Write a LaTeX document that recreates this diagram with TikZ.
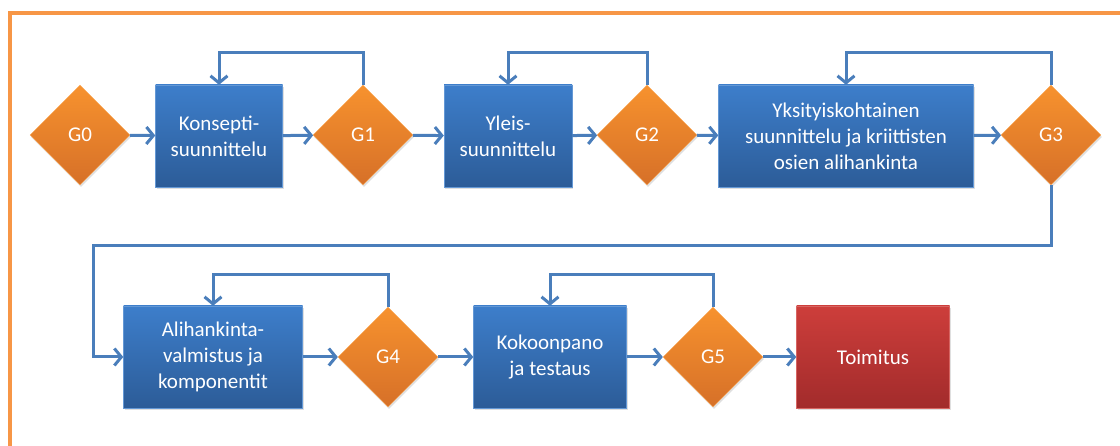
\documentclass[tikz,border=0pt]{standalone}
\usepackage{fontspec}
\setmainfont{Carlito}
\usetikzlibrary{arrows.meta,shapes.geometric,shadows}
\definecolor{gateorange}{RGB}{247,146,46}
\definecolor{gatedark}{RGB}{214,112,40}
\definecolor{taskblue}{RGB}{61,126,203}
\definecolor{taskdark}{RGB}{44,92,152}
\definecolor{donered}{RGB}{205,62,59}
\definecolor{donedark}{RGB}{162,43,43}
\definecolor{flowblue}{RGB}{74,126,187}
\definecolor{frameorange}{RGB}{247,150,70}

\begin{document}
\begin{tikzpicture}[x=1pt,y=-1pt,
    font=\fontsize{21}{26}\selectfont,
    gate/.style={diamond,aspect=1,inner sep=0pt,minimum width=100pt,minimum height=100pt,
      top color=gateorange,bottom color=gatedark,draw=gateorange!80!white,text=white,
      drop shadow={opacity=0.25,shadow xshift=1pt,shadow yshift=-2pt}},
    task/.style={rectangle,minimum height=102pt,align=center,inner sep=2pt,
      top color=taskblue,bottom color=taskdark,draw=taskblue!80!white,text=white,
      drop shadow={opacity=0.25,shadow xshift=1pt,shadow yshift=-2pt}},
    done/.style={task,top color=donered,bottom color=donedark,draw=donered!80!white},
    flow/.style={draw=flowblue,line width=3pt,
      -{Straight Barb[length=7pt,width=17pt,line width=3pt]}}]
    \useasboundingbox (0,0) rectangle (1120,446);
    \draw[frameorange,line width=3.5pt] (1120,13) -- (10,13) -- (10,446);
    % first row
    \node[gate] (g0) at (80,135) {G0};
    \node[task,minimum width=127pt] (k) at (219,136) {Konsepti-\\suunnittelu};
    \node[gate] (g1) at (363,135) {G1};
    \node[task,minimum width=128pt] (y) at (508,136) {Yleis-\\suunnittelu};
    \node[gate] (g2) at (647,135) {G2};
    \node[task,minimum width=255pt] (d) at (846,136) {Yksityiskohtainen\\suunnittelu ja kriittisten\\osien alihankinta};
    \node[gate] (g3) at (1051,135) {G3};
    % second row
    \node[task,minimum width=179pt] (a) at (213,357) {Alihankinta-\\valmistus ja\\komponentit};
    \node[gate] (g4) at (388,357) {G4};
    \node[task,minimum width=153pt] (t) at (550,357) {Kokoonpano\\ja testaus};
    \node[gate] (g5) at (713,357) {G5};
    \node[done,minimum width=153pt] (f) at (873,357) {Toimitus};
    \coordinate (turn) at (93,246);
    % forward flow
    \draw[flow] (g0) -- (k);
    \draw[flow] (k) -- (g1);
    \draw[flow] (g1) -- (y);
    \draw[flow] (y) -- (g2);
    \draw[flow] (g2) -- (d);
    \draw[flow] (d) -- (g3);
    \draw[flow] (g3.south) |- (turn) |- (a.west);
    \draw[flow] (a) -- (g4);
    \draw[flow] (g4) -- (t);
    \draw[flow] (t) -- (g5);
    \draw[flow] (g5) -- (f);
    % loops back
    \draw[flow] (g1.north) -- ++(0,-32) -| (k.north);
    \draw[flow] (g2.north) -- ++(0,-32) -| (y.north);
    \draw[flow] (g3.north) -- ++(0,-32) -| (d.north);
    \draw[flow] (g4.north) -- ++(0,-32) -| (a.north);
    \draw[flow] (g5.north) -- ++(0,-32) -| (t.north);
\end{tikzpicture}
\end{document}
